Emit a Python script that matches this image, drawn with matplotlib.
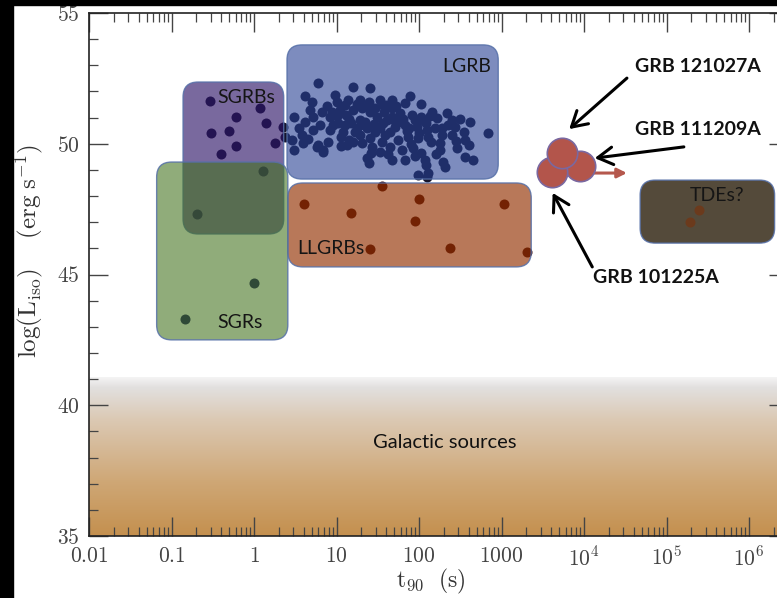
import numpy as np
import matplotlib.pyplot as plt
from matplotlib.patches import FancyBboxPatch, Rectangle
from matplotlib.transforms import IdentityTransform
from matplotlib.colors import LinearSegmentedColormap, to_rgba

plt.rcParams['mathtext.fontset'] = 'cm'

# log10(t90 / s) and log10(L_iso / erg s^-1) per population
lgrb_logt = [0.78, 1.20, 1.41, 0.62, 0.70, 0.98, 1.00, 1.14, 1.28, 1.39, 1.53, 1.56,
             0.48, 0.62, 0.72, 0.82, 0.92, 1.04, 1.12, 1.20, 1.31, 1.41, 1.49, 1.28,
             1.18, 1.02, 0.92, 0.80, 1.08, 1.22, 1.37, 1.53, 1.61, 0.46, 0.48, 0.59,
             0.78, 0.84, 0.90, 1.06, 1.20, 1.31, 1.41, 1.43, 1.55, 1.53, 1.37, 1.39,
             1.89, 2.03, 1.67, 1.83, 2.34, 2.40, 2.84, 1.77, 1.91, 2.03, 1.67, 1.71,
             1.83, 1.97, 2.09, 2.19, 2.28, 2.44, 2.54, 2.40, 2.56, 2.60, 2.46, 2.25,
             2.25, 2.11, 1.99, 1.87, 1.75, 1.65, 1.79, 1.93, 2.03, 2.07, 2.09, 2.29,
             2.32, 2.56, 2.66, 1.67, 1.83, 2.11, 1.99, 2.10, 0.35, 0.38, 0.76, 0.84,
             1.10, 1.47, 1.67, 1.75, 2.16, 2.22, 1.59, 1.28, 0.96, 0.72, 0.55, 1.13,
             1.95, 2.10, 2.35, 2.62, 2.28, 1.45, 1.65, 1.85, 2.00, 1.35, 1.15, 0.95,
             1.58, 1.90, 2.15, 1.00, 1.10, 1.25, 1.33, 1.47, 1.56, 1.70, 1.80, 1.88,
             2.05, 2.13, 1.72, 1.60, 1.38, 1.25, 0.88, 0.68, 0.58, 0.65, 1.15, 1.42,
             1.62, 1.95, 2.20, 2.45, 2.50, 1.05]
lgrb_logl = [52.31, 52.16, 52.12, 51.83, 51.61, 51.86, 51.61, 51.67, 51.67, 51.61, 51.67, 51.48,
             51.03, 50.84, 51.03, 51.23, 51.03, 51.29, 51.10, 51.29, 51.36, 51.23, 51.03, 50.91,
             50.78, 50.78, 50.53, 50.72, 50.46, 50.46, 50.59, 50.59, 50.91, 50.14, 49.76, 50.02,
             49.95, 49.76, 50.08, 50.27, 50.08, 50.02, 50.21, 49.89, 50.08, 49.70, 49.44, 49.25,
             51.83, 51.52, 51.67, 51.55, 51.16, 50.91, 50.42, 51.16, 51.10, 51.03, 51.03, 50.65,
             50.72, 50.65, 50.78, 50.59, 50.33, 50.65, 50.46, 50.33, 50.14, 49.95, 49.83, 50.02,
             49.76, 50.27, 50.21, 50.27, 50.14, 49.89, 49.76, 49.83, 49.63, 49.38, 49.19, 49.31,
             49.12, 49.50, 49.38, 49.38, 49.38, 48.87, 48.81, 48.73, 50.64, 50.26, 49.88, 49.68,
             51.48, 51.37, 51.37, 50.83, 51.21, 50.98, 50.33, 50.33, 50.72, 50.53, 50.59, 49.95,
             50.91, 50.53, 50.72, 50.84, 50.59, 50.75, 50.45, 50.50, 50.40, 50.85, 50.95, 51.20,
             51.20, 50.00, 50.05, 51.05, 50.70, 50.60, 50.72, 50.45, 50.80, 50.90, 50.95, 50.62,
             50.90, 51.05, 51.45, 51.50, 51.48, 51.52, 51.45, 51.30, 50.35, 50.20, 50.15, 49.65,
             49.60, 49.55, 49.60, 50.10, 50.95, 49.90]

sgrb_logt = [-0.53, 0.07, -0.22, 0.15, -0.52, -0.30, -0.22, 0.25, -0.40]
sgrb_logl = [51.63, 51.37, 51.02, 50.79, 50.41, 50.49, 49.91, 50.03, 49.61]

sgr_logt = [0.11, -0.69, 0.00, -0.84]
sgr_logl = [48.96, 47.31, 44.67, 43.30]

llgrb_logt = [0.60, 1.17, 1.55, 2.00, 1.95, 1.41, 2.38, 3.03, 3.31]
llgrb_logl = [47.68, 47.34, 48.40, 47.89, 47.05, 45.98, 46.00, 47.68, 45.87]

tde_logt = [5.39, 5.29]
tde_logl = [47.47, 47.02]

# ultra-long GRBs, drawn back to front
ulgrb_names = ['GRB 111209A', 'GRB 101225A', 'GRB 121027A']
ulgrb_logt = [3.95, 3.61, 3.73]
ulgrb_logl = [49.15, 48.92, 49.65]

# population boxes: (log t range, log L range)
region_names = ['SGRBs', 'SGRs', 'LGRB', 'LLGRBs', 'TDEs?']
region_logt = [(-0.86, 0.36), (-1.18, 0.41), (0.40, 2.96), (0.41, 3.36), (4.68, 6.31)]
region_logl = [(46.55, 52.36), (42.50, 49.30), (48.65, 53.78), (45.29, 48.50), (46.20, 48.61)]
galactic_logl = (35.0, 41.1)

fig = plt.figure(figsize=(7.77, 5.98), dpi=100)
fig.patch.set_facecolor('white')
ax = fig.add_axes([89/777, 62/598, 699.4/777, 523/598])
ax.set_xscale('log')
ax.set_xlim(0.01, 3e6)
ax.set_ylim(35, 55)

# galactic sources band, grey at the top fading into tan
gal_cmap = LinearSegmentedColormap.from_list('gal', [(0.0, '#c4904f'), (0.35, '#cfa877'),
                                                     (0.72, '#dbc8b2'), (0.93, '#e2e0df'),
                                                     (1.0, '#f6f6f6')])
grad = np.linspace(0, 1, 256).reshape(-1, 1)
ax.imshow(grad, cmap=gal_cmap, origin='lower', aspect='auto',
          extent=[0.01, 3e6, galactic_logl[0], galactic_logl[1]], zorder=0)
ax.text(10**1.44, 38.56, 'Galactic sources', family='Lato', fontsize=14.5,
        va='center', ha='left', color='#111111', zorder=6)

dot_kw = dict(s=52, color='#15152c', linewidths=0, zorder=2)
ax.scatter(10**np.array(lgrb_logt), lgrb_logl, **dot_kw)
ax.scatter(10**np.array(sgrb_logt), sgrb_logl, **dot_kw)
ax.scatter(10**np.array(sgr_logt), sgr_logl, s=52, color='#181560', linewidths=0, zorder=2)
ax.scatter(10**np.array(llgrb_logt), llgrb_logl, color='#3a0a0a', s=52, linewidths=0, zorder=2)

box_faces = ['#2e1468', '#41701a', '#263f93', '#923000', '#544a3a']
box_alpha = [0.64, 0.58, 0.60, 0.65, 1.0]
box_z = [3, 3.2, 3, 3, 3]
label_pos = [(-0.44, 51.75), (-0.44, 43.15), (2.28, 52.97), (0.52, 46.01), (5.28, 48.04)]


def rounded_box(lt, ll, face, alpha, z):
    (x0, y0), (x1, y1) = ax.transData.transform([(10**lt[0], ll[0]), (10**lt[1], ll[1])])
    box = FancyBboxPatch((x0, y0), x1 - x0, y1 - y0,
                         boxstyle='round,pad=0,rounding_size=15',
                         transform=IdentityTransform(),
                         fc=to_rgba(face, alpha), ec=to_rgba('#5670a8', 0.85),
                         lw=1.0, zorder=z)
    ax.add_patch(box)


for name, lt, ll, face, a, z, pos in zip(region_names, region_logt, region_logl,
                                          box_faces, box_alpha, box_z, label_pos):
    rounded_box(lt, ll, face, a, z)
    ax.text(10**pos[0], pos[1], name, family='Lato', fontsize=14, ha='left',
            va='center', color='#151515', zorder=6)

ax.scatter(10**np.array(tde_logt), tde_logl, s=52, color='#6b3a1c', linewidths=0, zorder=4)

# red arrow: lower limits in duration
ax.annotate('', xy=(10**4.52, 48.88), xytext=(10**3.66, 48.88),
            arrowprops=dict(arrowstyle='-|>', color='#b5584d', lw=2.2,
                            mutation_scale=14, shrinkA=0, shrinkB=0), zorder=5)
ax.scatter(10**np.array(ulgrb_logt), ulgrb_logl, s=480, color='#b3554b',
           edgecolors='#7a68a0', linewidths=1.2, zorder=6)

heads = [(4.13, 49.45), (3.62, 48.12), (3.82, 50.56)]
tails = [(5.21, 49.88), (4.10, 45.29), (4.52, 52.51)]
label_xy = [(4.62, 50.53), (4.11, 44.87), (4.62, 52.97)]
for name, h, t, lp in zip(ulgrb_names, heads, tails, label_xy):
    ax.annotate('', xy=(10**h[0], h[1]), xytext=(10**t[0], t[1]),
                arrowprops=dict(arrowstyle='->,head_length=0.6,head_width=0.35',
                                color='black', lw=2.2, mutation_scale=18,
                                shrinkA=0, shrinkB=0), zorder=7)
    ax.text(10**lp[0], lp[1], name, family='Lato', fontweight='bold', fontsize=14,
            ha='left', va='center', color='#111111', zorder=7)

# axes, ticks and labels
xt = [1e-2, 1e-1, 1, 10, 100, 1000, 1e4, 1e5, 1e6]
xt_labels = ['$0.01$', '$0.1$', '$1$', '$10$', '$100$', '$1000$', '$10^4$', '$10^5$', '$10^6$']
ax.set_xticks(xt)
ax.set_xticklabels(xt_labels)
yt = [35, 40, 45, 50, 55]
ax.set_yticks(yt)
ax.set_yticklabels(['$%d$' % v for v in yt])
ax.set_yticks(np.arange(35, 56, 1), minor=True)
ax.xaxis.set_minor_locator(plt.matplotlib.ticker.LogLocator(base=10, subs=np.arange(2, 10)))
ax.xaxis.set_minor_formatter(plt.NullFormatter())
ax.tick_params(which='both', direction='in', top=True, right=True, colors='#444444',
               labelsize=15.5, labelcolor='#444444')
ax.tick_params(which='major', length=13.5, width=1.0, pad=7)
ax.tick_params(which='minor', length=6.5, width=0.9)
for s in ax.spines.values():
    s.set_color('#222222')
    s.set_linewidth(1.2)

ax.set_xlabel(r'$\mathrm{t_{90}\ \ (s)}$', fontsize=17, color='#333333')
ax.xaxis.set_label_coords(0.489, -0.06)
ax.set_ylabel(r'$\mathrm{log(L_{iso})\quad\ (erg\ s^{-1})}$', fontsize=18, color='#333333')
ax.yaxis.set_label_coords(-0.063, 0.545)

# dark frame round the left and top edges
fig.add_artist(Rectangle((0, 0), 13/777, 1, transform=fig.transFigure,
                         color='black', zorder=10))
fig.add_artist(Rectangle((0, 1 - 5/598), 1, 5/598, transform=fig.transFigure,
                         color='black', zorder=10))

fig.savefig('out.png', dpi=100)
